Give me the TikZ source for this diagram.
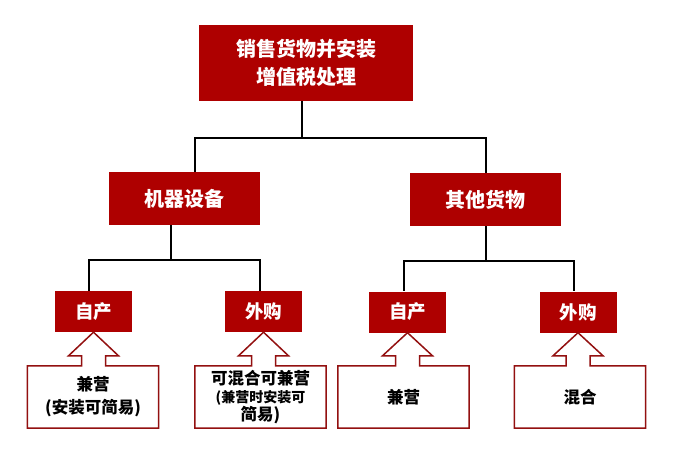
\documentclass[tikz,border=0pt]{standalone}
\usepackage{fontspec}
\newfontfamily\cjk{Noto Sans CJK SC}
\usetikzlibrary{calc}
\definecolor{darkred}{HTML}{AE0000}
\definecolor{edgered}{HTML}{931010}
\tikzset{head/.style={fill=darkred, text=white, font=\cjk\bfseries\fontsize{20}{28}\selectfont, align=center, inner sep=0pt}, sub/.style={fill=darkred, text=white, font=\cjk\bfseries\fontsize{18.5}{22}\selectfont, minimum width=77pt, minimum height=41pt, inner sep=0pt}, note/.style={text=black, font=\cjk\bfseries\fontsize{16.5}{23}\selectfont, align=center, minimum width=131pt, minimum height=62pt, inner sep=0pt}, link/.style={line width=1.6pt}, callout/.style={draw=edgered, line width=1.5pt, line join=miter}}
\begin{document}
\begin{tikzpicture}[x=1pt,y=-1pt]
\useasboundingbox[fill=white] (0,0) rectangle (674,448);
\node[head, minimum width=214pt, minimum height=76pt] (top) at (306,63) {销售货物并安装\\增值税处理};
\node[head, minimum width=151pt, minimum height=53pt] (mach) at (184.5,198.5) {机器设备};
\node[head, minimum width=151pt, minimum height=53pt] (other) at (485.5,199.5) {其他货物};
\node[sub] (l1) at (93.5,311.5) {自产}; \node[sub] (l2) at (263.5,311.5) {外购};
\node[sub] (r1) at (407.5,312) {自产}; \node[sub] (r2) at (578,312) {外购};
\node[note] (b1) at (93,397) {兼营\\(安装可简易)};
\node[note, font=\cjk\bfseries\fontsize{16.5}{18}\selectfont] (b2) at (260.5,397) {可混合可兼营\\ \fontsize{14}{18}\selectfont (兼营时安装可\\简易)};
\node[note] (b3) at (403.5,397) {兼营}; \node[note] (b4) at (580,397) {混合};
\coordinate (j1) at (302,138); \coordinate (j2) at (171,260); \coordinate (j3) at (486,261);
\draw[link] (top.south -| j1) -- (j1) -| ([xshift=10.5pt]mach.north); \draw[link] (j1) -| ([xshift=.5pt]other.north);
\draw[link] (mach.south -| j2) -- (j2) -| ([xshift=-4.5pt]l1.north); \draw[link] (j2) -| ([xshift=-3.5pt]l2.north);
\draw[link] (other.south -| j3) -- (j3) -| ([xshift=-3.5pt]r1.north); \draw[link] (j3) -| ([xshift=-4pt]r2.north);
\foreach \b/\t in {b1/l1,b2/l2,b3/r1,b4/r2}
  \draw[callout] let \p1=(\t.south), \p2=(\b.north) in (\b.north west) -- (\x1-12pt,\y2) -- (\x1-12pt,\y2+10pt) -- (\x1-25pt,\y2+10pt) -- (\p1) -- (\x1+25pt,\y2+10pt) -- (\x1+12pt,\y2+10pt) -- (\x1+12pt,\y2) -- (\b.north east) |- (\b.south west) -- cycle;
\end{tikzpicture}
\end{document}
